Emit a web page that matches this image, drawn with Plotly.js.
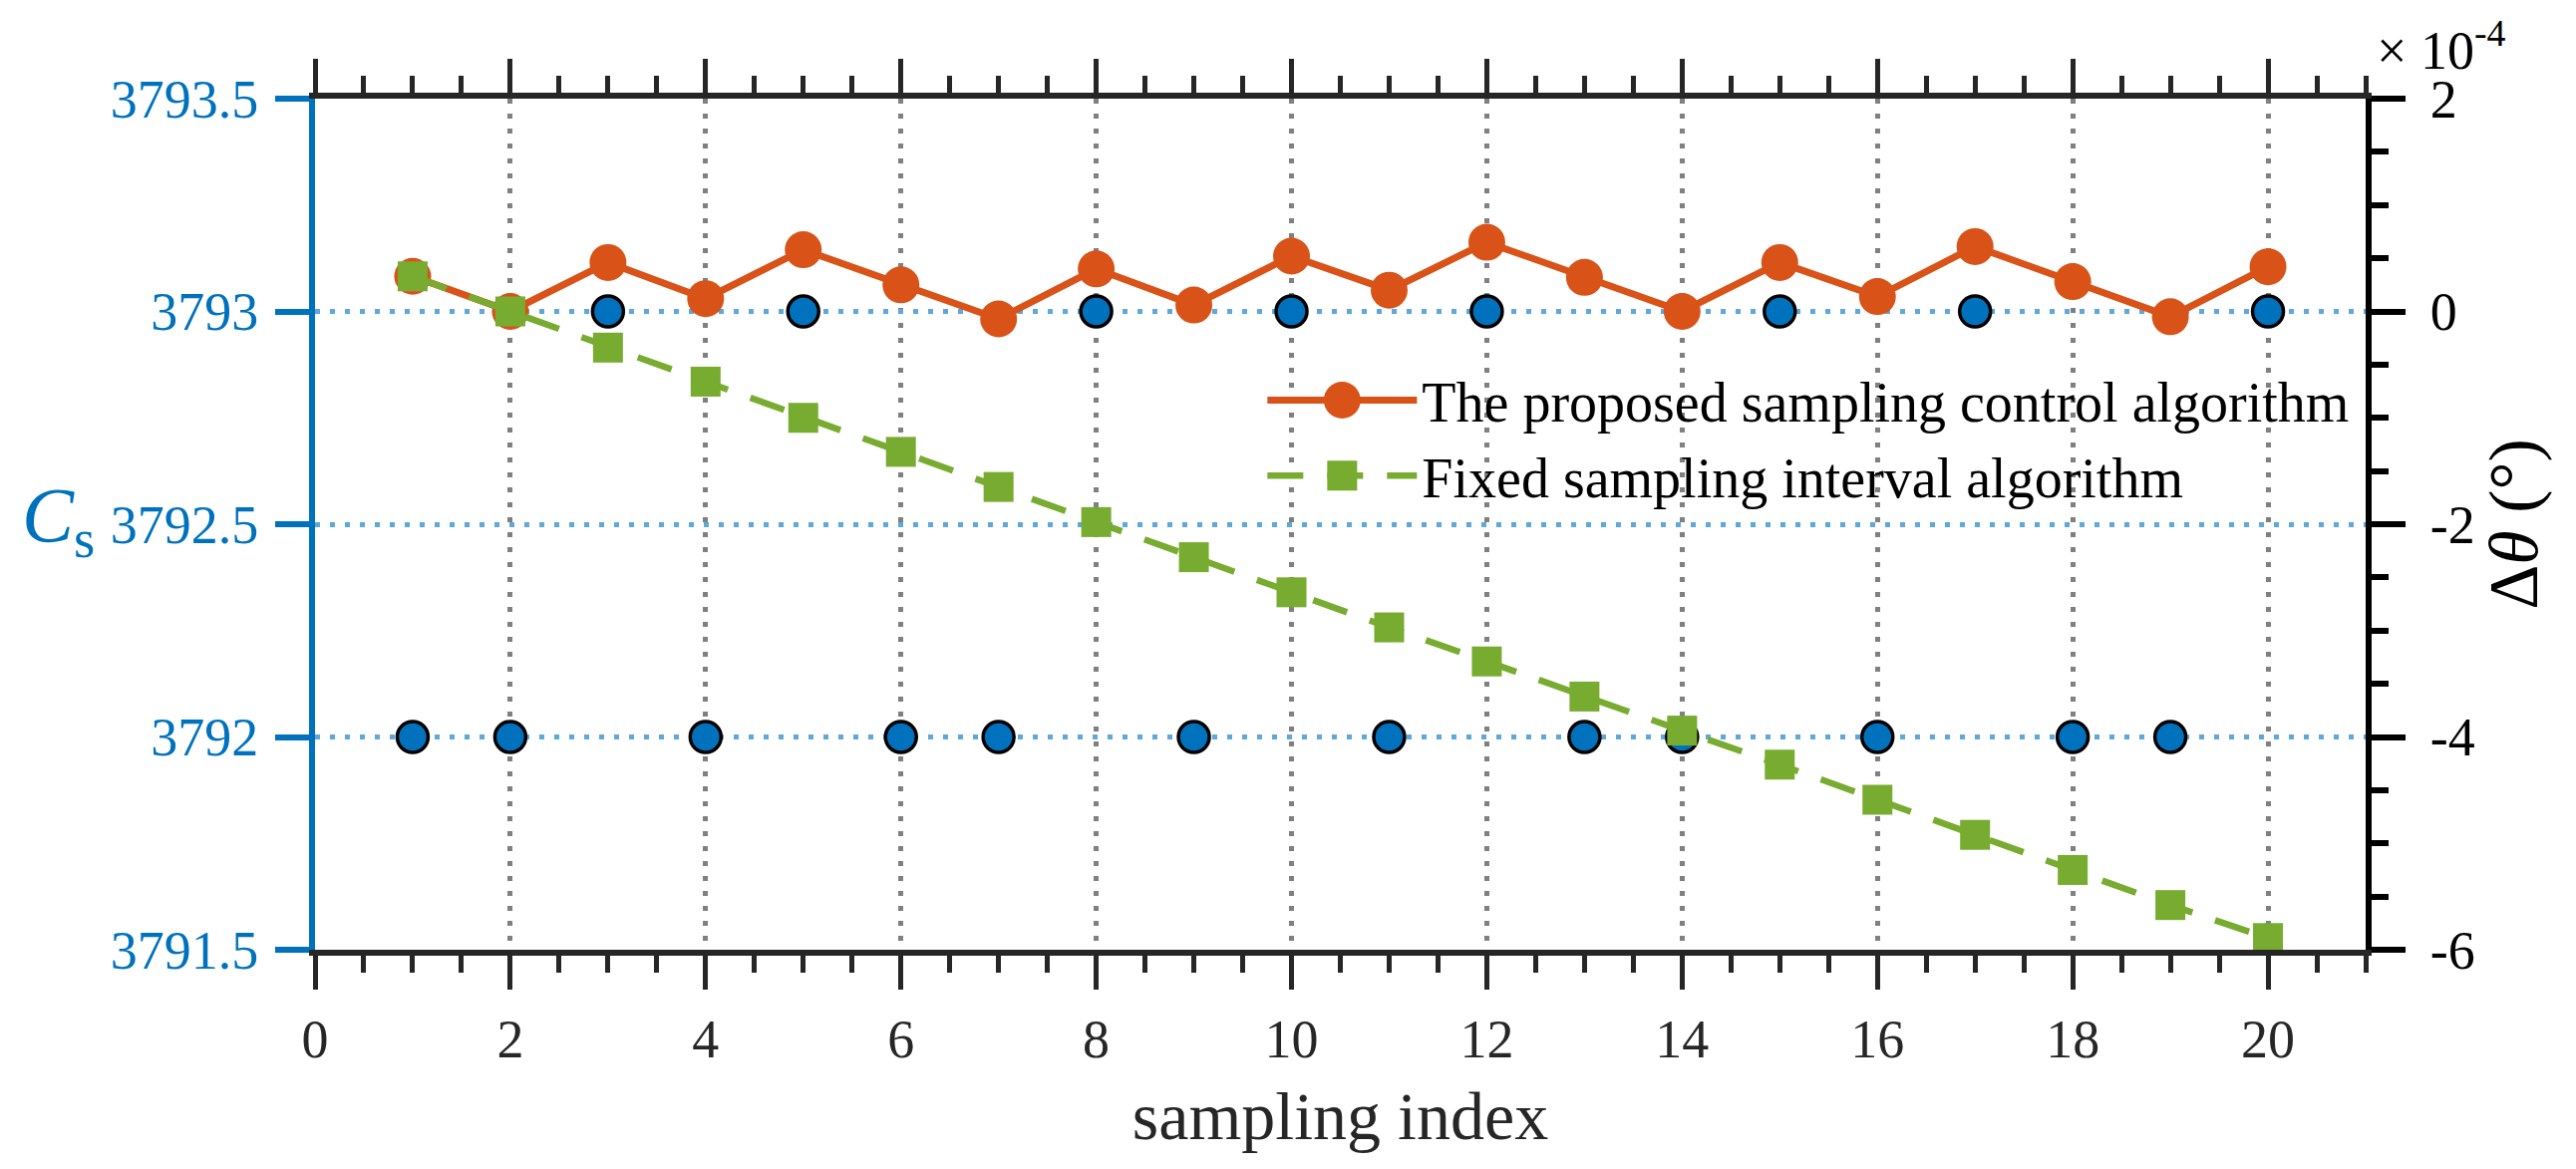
<!DOCTYPE html>
<html>
<head>
<meta charset="utf-8">
<script src="https://cdn.plot.ly/plotly-3.0.1.min.js"></script>
<style>html,body{margin:0;padding:0;background:#fff;}#chart{width:2584px;height:1173px;}</style>
</head>
<body>
<div id="chart"></div>
<script>
// sampling index
const samplingIndex = [1,2,3,4,5,6,7,8,9,10,11,12,13,14,15,16,17,18,19,20];
// C_s (left axis)
const csValues = [3792,3792,3793,3792,3793,3792,3792,3793,3792,3793,3792,3793,3792,3792,3793,3792,3793,3792,3792,3793];
// Δθ of the proposed sampling control algorithm (×10^-4 degrees, right axis)
const proposedDelta = [0.33,0,0.46,0.12,0.58,0.25,-0.07,0.40,0.06,0.52,0.20,0.65,0.32,0.0,0.46,0.14,0.61,0.28,-0.05,0.42];
// Δθ of the fixed sampling interval algorithm (×10^-4 degrees, right axis)
const fixedDelta = [0.33,0,-0.34,-0.66,-1.0,-1.32,-1.65,-1.98,-2.31,-2.64,-2.97,-3.29,-3.62,-3.94,-4.26,-4.59,-4.92,-5.25,-5.58,-5.89];
// legend names
const seriesNames = ['The proposed sampling control algorithm','Fixed sampling interval algorithm'];
// right axis ticks
const rightTickVals = [-6,-4,-2,0,2];
const rightTickText = ['-6','-4','-2','0','2'];

const FONT = 'Liberation Serif';
const BLUE = '#0072BD';
const ORANGE = '#D95319';
const GREEN = '#77AC30';
const DARK = '#262626';

const traces = [
  {
    x: samplingIndex, y: csValues, xaxis: 'x', yaxis: 'y',
    type: 'scatter', mode: 'markers', showlegend: false,
    marker: {symbol: 'circle', size: 31, color: BLUE, line: {color: '#000', width: 3.5}}
  },
  {
    x: samplingIndex, y: proposedDelta, xaxis: 'x', yaxis: 'y2',
    type: 'scatter', mode: 'lines+markers', name: seriesNames[0],
    line: {color: ORANGE, width: 7},
    marker: {symbol: 'circle', size: 37, color: ORANGE}
  },
  {
    x: samplingIndex, y: fixedDelta, xaxis: 'x', yaxis: 'y2',
    type: 'scatter', mode: 'lines+markers', name: seriesNames[1],
    line: {color: GREEN, width: 6.5, dash: '36px,24px'},
    marker: {symbol: 'square', size: 30, color: GREEN}
  }
];

const layout = {
  width: 2584, height: 1173,
  margin: {l: 316, r: 211, t: 99, b: 220},
  paper_bgcolor: '#fff', plot_bgcolor: '#fff',
  font: {family: FONT, size: 54, color: DARK},
  separators: '.',
  showlegend: true,
  legend: {
    x: 0.462, y: 0.696, xanchor: 'left', yanchor: 'top',
    bgcolor: 'rgba(0,0,0,0)', borderwidth: 0,
    font: {family: FONT, size: 56, color: '#000'},
    itemwidth: 150, tracegroupgap: 0
  },
  xaxis: {
    range: [0, 21], tickmode: 'linear', tick0: 0, dtick: 2,
    showline: true, linecolor: DARK, linewidth: 6, mirror: 'ticks',
    ticks: 'outside', ticklen: 34, tickwidth: 5, tickcolor: DARK,
    tickfont: {family: FONT, size: 54, color: DARK}, ticklabelstandoff: 3,
    showgrid: true, gridcolor: '#808080', gridwidth: 5, griddash: '5px,10px',
    zeroline: false,
    minor: {dtick: 0.5, tick0: 0, ticks: 'outside', ticklen: 17, tickwidth: 5, tickcolor: DARK, showgrid: false},
    title: {text: '  sampling index', font: {family: FONT, size: 68, color: DARK}, standoff: 26}
  },
  yaxis: {
    range: [3791.5, 3793.5], tickmode: 'linear', tick0: 3791.5, dtick: 0.5,
    tickformat: '.1~f',
    showline: true, linecolor: BLUE, linewidth: 6,
    ticks: 'outside', ticklen: 34, tickwidth: 6, tickcolor: BLUE,
    tickfont: {family: FONT, size: 54, color: BLUE}, ticklabelstandoff: 6,
    showgrid: true, gridcolor: '#5FA8DB', gridwidth: 5, griddash: '5px,10px',
    zeroline: false
  },
  yaxis2: {
    overlaying: 'y', side: 'right', range: [-6, 2],
    tickmode: 'array', tickvals: rightTickVals, ticktext: rightTickText,
    showline: true, linecolor: '#000', linewidth: 6,
    ticks: 'outside', ticklen: 34, tickwidth: 6, tickcolor: '#000',
    tickfont: {family: FONT, size: 54, color: '#000'}, ticklabelstandoff: 14,
    showgrid: false, zeroline: false,
    minor: {tickmode: 'linear', tick0: 0, dtick: 0.5, ticks: 'outside', ticklen: 17, tickwidth: 6, tickcolor: '#000', showgrid: false},
    title: {text: 'Δ<i>θ</i> (°)', font: {family: FONT, size: 70, color: '#000'}, standoff: 0}
  },
  annotations: [
    {
      xref: 'paper', yref: 'paper', x: 1.0044, y: 1.062, xanchor: 'left', yanchor: 'middle',
      text: '× 10<sup>-4</sup>', showarrow: false,
      font: {family: FONT, size: 54, color: '#000'}
    },
    {
      xref: 'paper', yref: 'paper', x: -0.144, y: 0.505, xanchor: 'left', yanchor: 'middle',
      text: '<i>C</i><sub>s</sub>', showarrow: false,
      font: {family: FONT, size: 78, color: BLUE}
    }
  ]
};

const gd = document.getElementById('chart');
Plotly.newPlot(gd, traces, layout, {staticPlot: true, displayModeBar: false}).then(function () {
  // enlarge legend symbols to match the plotted marker / line sizes
  const legendTraces = gd.querySelectorAll('.legend .traces');
  legendTraces.forEach(function (g, i) {
    const tr = traces[i + 1];
    g.querySelectorAll('.legendlines path').forEach(function (ln) {
      ln.style.strokeWidth = tr.line.width + 'px';
    });
    g.querySelectorAll('.legendpoints path').forEach(function (p) {
      const bb = p.getBBox();
      if (bb.width > 0) {
        const k = tr.marker.size / bb.width;
        const t = p.getAttribute('transform') || '';
        p.setAttribute('transform', t + ' scale(' + k + ')');
        p.style.strokeWidth = '0px';
      }
    });
  });
});
</script>
</body>
</html>
